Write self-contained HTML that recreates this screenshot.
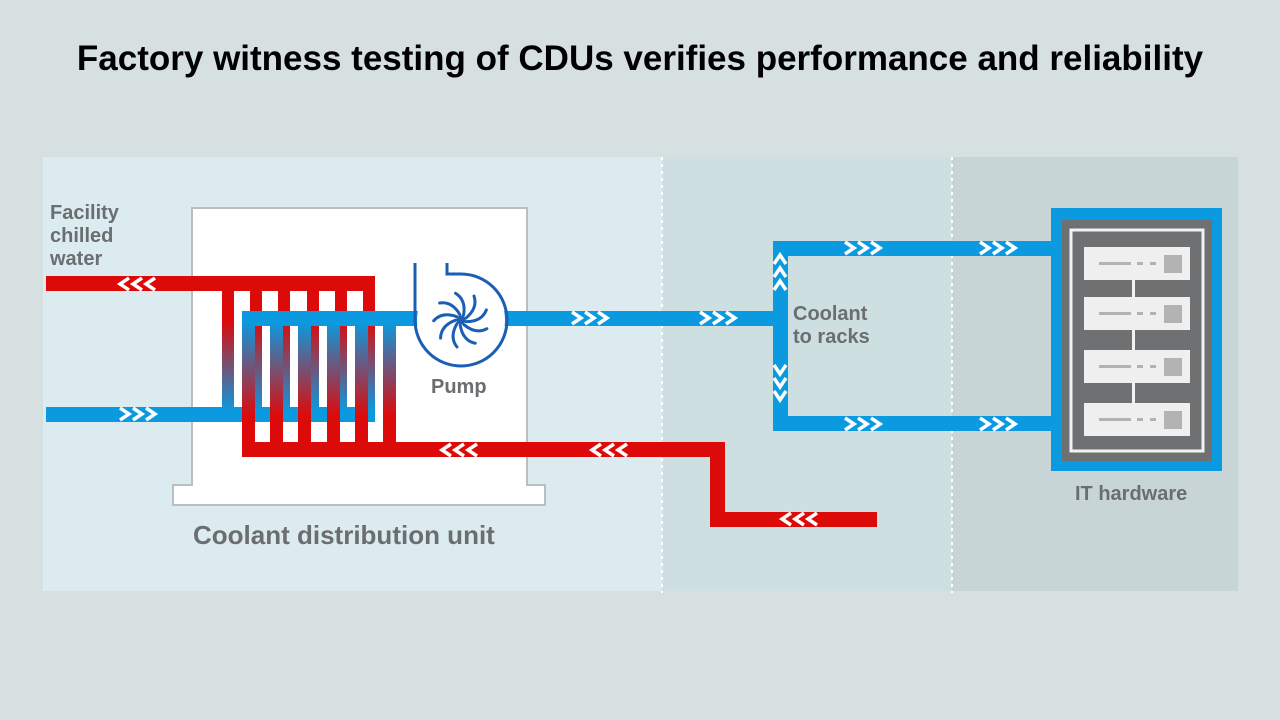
<!DOCTYPE html>
<html><head><meta charset="utf-8"><style>
html,body{margin:0;padding:0;width:1280px;height:720px;overflow:hidden;background:#d6e0e1}
svg{display:block}
text{font-family:"Liberation Sans",sans-serif}
</style></head><body>
<svg width="1280" height="720" viewBox="0 0 1280 720" xmlns="http://www.w3.org/2000/svg">
<defs>
<linearGradient id="rb" x1="0" y1="0" x2="0" y2="1">
<stop offset="0" stop-color="#dd0a0a"/><stop offset="0.25" stop-color="#dd0a0a"/><stop offset="1" stop-color="#0b9ae0"/></linearGradient>
<linearGradient id="br" x1="0" y1="0" x2="0" y2="1">
<stop offset="0" stop-color="#0b9ae0"/><stop offset="0.75" stop-color="#dd0a0a"/><stop offset="1" stop-color="#dd0a0a"/></linearGradient>
<path id="cr" d="M0,-6 l9,6 -9,6 M13,-6 l9,6 -9,6 M26,-6 l9,6 -9,6" fill="none" stroke="#fff" stroke-width="3.5"/>
</defs>
<rect width="1280" height="720" fill="#d6e0e1"/>
<text x="640" y="70" text-anchor="middle" font-size="35" font-weight="bold" fill="#000">Factory witness testing of CDUs verifies performance and reliability</text>
<rect x="43" y="157" width="619" height="434" fill="#dcebef"/>
<rect x="662" y="157" width="290" height="434" fill="#cddfe0"/>
<rect x="952" y="157" width="286" height="434" fill="#c8d5d7"/>
<line x1="662" y1="157" x2="662" y2="593" stroke="#fff" stroke-width="2" stroke-dasharray="3,4"/>
<line x1="952" y1="157" x2="952" y2="593" stroke="#fff" stroke-width="2" stroke-dasharray="3,4"/>
<path d="M192,485 V208 H527 V485 H545 V505 H173 V485 Z" fill="#fff" stroke="#b8bec2" stroke-width="2"/>
<rect x="46" y="276" width="329" height="15" fill="#dd0a0a"/>
<rect x="46" y="407" width="329" height="15" fill="#0b9ae0"/>
<g fill="url(#rb)">
<rect x="222" y="291" width="12" height="120"/><rect x="250" y="291" width="12" height="120"/><rect x="278" y="291" width="12" height="120"/><rect x="307" y="291" width="12" height="120"/><rect x="335" y="291" width="12" height="120"/><rect x="363" y="291" width="12" height="120"/>
</g>
<rect x="242" y="311" width="540" height="15" fill="#0b9ae0"/>
<g fill="url(#br)">
<rect x="242" y="322" width="13" height="125"/><rect x="270" y="322" width="13" height="125"/><rect x="298" y="322" width="13" height="125"/><rect x="327" y="322" width="13" height="125"/><rect x="355" y="322" width="13" height="125"/><rect x="383" y="322" width="13" height="125"/>
</g>
<path d="M242,442 H725 V512 H877 V527 H710 V457 H242 Z" fill="#dd0a0a"/>
<circle cx="461" cy="320" r="44" fill="#fff"/>
<path d="M415,263 V320 A46,46 0 1 0 461,274 H447 V263" fill="none" stroke="#1a5fb4" stroke-width="3"/>
<g stroke="#1a5fb4" stroke-width="3" fill="none" stroke-linecap="round">
<circle cx="461" cy="320" r="3" fill="#1a5fb4"/>
<g id="bl"><path d="M466,318 Q478,308 474,296"/></g>
<use href="#bl" transform="rotate(40 461 320)"/><use href="#bl" transform="rotate(80 461 320)"/><use href="#bl" transform="rotate(120 461 320)"/><use href="#bl" transform="rotate(160 461 320)"/><use href="#bl" transform="rotate(200 461 320)"/><use href="#bl" transform="rotate(240 461 320)"/><use href="#bl" transform="rotate(280 461 320)"/><use href="#bl" transform="rotate(320 461 320)"/>
</g>
<path d="M773,241 H1052 V256 H788 V416 H1052 V431 H773 Z" fill="#0b9ae0"/>
<use href="#cr" transform="translate(120,414)"/>
<use href="#cr" transform="translate(572,318)"/>
<use href="#cr" transform="translate(700,318)"/>
<use href="#cr" transform="translate(845,248)"/>
<use href="#cr" transform="translate(980,248)"/>
<use href="#cr" transform="translate(845,424)"/>
<use href="#cr" transform="translate(980,424)"/>
<use href="#cr" transform="translate(155,284) scale(-1,1)"/>
<use href="#cr" transform="translate(477,450) scale(-1,1)"/>
<use href="#cr" transform="translate(627,450) scale(-1,1)"/>
<use href="#cr" transform="translate(817,519) scale(-1,1)"/>
<use href="#cr" transform="translate(780,290) rotate(90) scale(-1,1)"/>
<use href="#cr" transform="translate(780,365) rotate(90)"/>
<rect x="1051" y="208" width="171" height="263" fill="#0b9ae0"/>
<rect x="1062" y="220" width="150" height="241" fill="#6f7072"/>
<rect x="1071" y="230" width="132" height="221" fill="none" stroke="#f2f2f2" stroke-width="3"/>
<rect x="1132" y="248" width="3" height="185" fill="#f2f2f2"/>
<g fill="#efefef">
<rect x="1084" y="247" width="106" height="33"/><rect x="1084" y="297" width="106" height="33"/><rect x="1084" y="350" width="106" height="33"/><rect x="1084" y="403" width="106" height="33"/>
</g>
<g fill="#b3b3b3">
<rect x="1164" y="255" width="18" height="18"/><rect x="1164" y="305" width="18" height="18"/><rect x="1164" y="358" width="18" height="18"/><rect x="1164" y="411" width="18" height="18"/>
<rect x="1099" y="262" width="32" height="3"/><rect x="1137" y="262" width="6" height="3"/><rect x="1150" y="262" width="6" height="3"/>
<rect x="1099" y="312" width="32" height="3"/><rect x="1137" y="312" width="6" height="3"/><rect x="1150" y="312" width="6" height="3"/>
<rect x="1099" y="365" width="32" height="3"/><rect x="1137" y="365" width="6" height="3"/><rect x="1150" y="365" width="6" height="3"/>
<rect x="1099" y="418" width="32" height="3"/><rect x="1137" y="418" width="6" height="3"/><rect x="1150" y="418" width="6" height="3"/>
</g>
<g fill="#6b6e70" font-weight="bold">
<text x="50" y="219" font-size="20">Facility</text>
<text x="50" y="242" font-size="20">chilled</text>
<text x="50" y="265" font-size="20">water</text>
<text x="431" y="393" font-size="20">Pump</text>
<text x="793" y="320" font-size="20">Coolant</text>
<text x="793" y="343" font-size="20">to racks</text>
<text x="193" y="544" font-size="26">Coolant distribution unit</text>
<text x="1075" y="500" font-size="20">IT hardware</text>
</g>
</svg>
</body></html>
